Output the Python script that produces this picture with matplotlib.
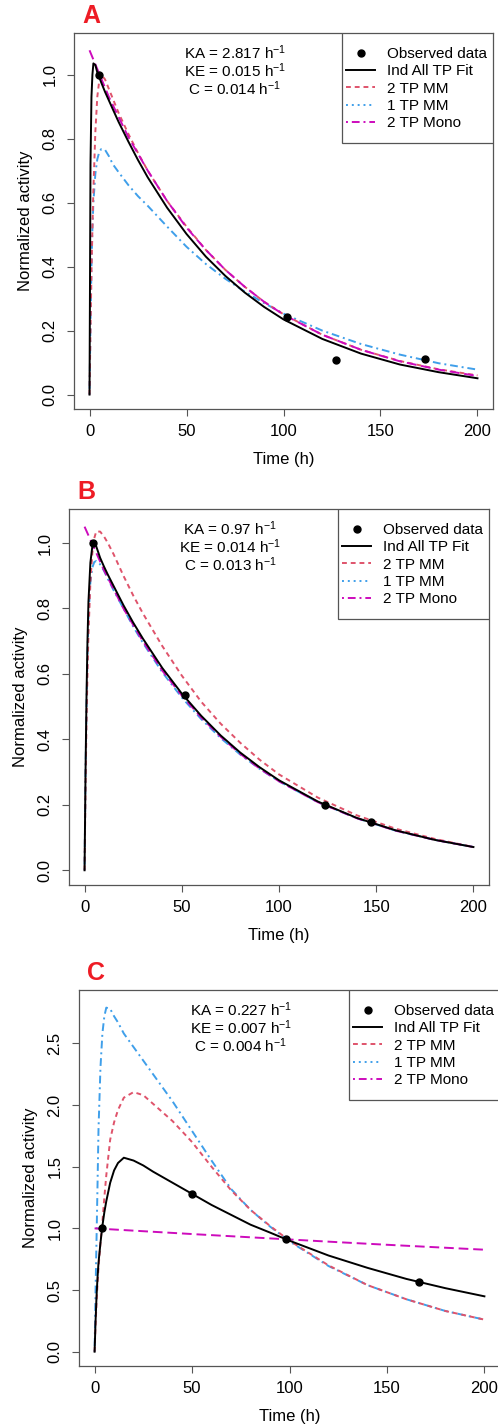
import matplotlib
matplotlib.use("Agg")
import matplotlib.pyplot as plt
from matplotlib.lines import Line2D
from matplotlib.patches import Rectangle

plt.rcParams['font.family'] = ['Liberation Sans', 'DejaVu Sans']
plt.rcParams['mathtext.fontset'] = 'custom'
plt.rcParams['mathtext.rm'] = 'Liberation Sans'
plt.rcParams['mathtext.it'] = 'Liberation Sans:italic'

# common time grid of the fitted curves (h)
t_fit = [0, 0.5, 1, 1.5, 2, 3, 4, 5, 6, 8, 10, 12, 15, 20, 25, 30, 40, 50,
         60, 70, 80, 90, 100, 120, 140, 160, 180, 200]
t_mono_ab = [0, 10, 20, 30, 40, 50, 60, 70, 80, 90, 100, 120, 140, 160, 180, 200]
t_mono_c = [0, 25, 50, 75, 100, 125, 150, 175, 200]

# panel A
a_obs_t = [5, 101.7, 127.3, 172.7]
a_obs_y = [1.0, 0.244, 0.107, 0.112]
a_ind = [0, 0.72, 0.93, 1.0, 1.035, 1.03, 1.007, 0.992, 0.976, 0.946, 0.919, 0.892,
         0.852, 0.791, 0.733, 0.679, 0.584, 0.502, 0.431, 0.371, 0.319, 0.274,
         0.235, 0.174, 0.128, 0.094, 0.070, 0.051]
a_2mm = [0, 0.2, 0.38, 0.52, 0.64, 0.82, 0.93, 0.98, 1.0, 0.985, 0.955, 0.925,
         0.88, 0.815, 0.755, 0.70, 0.605, 0.525, 0.452, 0.39, 0.337, 0.29,
         0.251, 0.187, 0.14, 0.105, 0.079, 0.06]
a_1mm = [0, 0.22, 0.4, 0.52, 0.6, 0.69, 0.735, 0.758, 0.767, 0.765, 0.745, 0.72,
         0.695, 0.655, 0.62, 0.59, 0.525, 0.462, 0.408, 0.362, 0.322, 0.286,
         0.253, 0.2, 0.158, 0.125, 0.098, 0.078]
a_mono = [1.076, 0.93, 0.805, 0.70, 0.605, 0.522, 0.452, 0.39, 0.337, 0.29, 0.25,
          0.187, 0.14, 0.104, 0.078, 0.058]

# panel B
b_obs_t = [4.1, 51.6, 123.4, 147.4]
b_obs_y = [1.0, 0.536, 0.198, 0.149]
b_ind = [0, 0.3, 0.53, 0.7, 0.82, 0.94, 0.99, 1.0, 0.99, 0.955, 0.928, 0.903,
         0.868, 0.81, 0.757, 0.708, 0.618, 0.54, 0.472, 0.412, 0.36, 0.315,
         0.275, 0.21, 0.16, 0.122, 0.093, 0.071]
b_2mm = [0, 0.25, 0.45, 0.6, 0.72, 0.88, 0.97, 1.015, 1.035, 1.035, 1.02, 1.0,
         0.965, 0.9, 0.84, 0.785, 0.685, 0.595, 0.515, 0.448, 0.39, 0.338,
         0.293, 0.222, 0.168, 0.127, 0.096, 0.071]
b_1mm = [0, 0.3, 0.5, 0.66, 0.77, 0.88, 0.925, 0.942, 0.945, 0.935, 0.915, 0.89,
         0.855, 0.8, 0.745, 0.695, 0.605, 0.528, 0.462, 0.404, 0.354, 0.31,
         0.272, 0.208, 0.159, 0.121, 0.093, 0.071]
b_mono = [1.05, 0.917, 0.80, 0.70, 0.61, 0.534, 0.467, 0.408, 0.356, 0.311, 0.272,
          0.208, 0.159, 0.121, 0.093, 0.071]

# panel C
c_obs_t = [3.8, 50, 98, 166.2]
c_obs_y = [1.0, 1.276, 0.914, 0.562]
c_ind = [0, 0.25, 0.45, 0.6, 0.72, 0.88, 1.02, 1.13, 1.22, 1.37, 1.47, 1.53,
         1.573, 1.55, 1.51, 1.46, 1.37, 1.28, 1.19, 1.11, 1.03, 0.966, 0.90,
         0.78, 0.68, 0.59, 0.515, 0.449]
c_2mm = [0, 0.22, 0.4, 0.55, 0.68, 0.88, 1.05, 1.25, 1.43, 1.72, 1.86, 1.96,
         2.06, 2.105, 2.08, 2.01, 1.87, 1.70, 1.50, 1.31, 1.15, 1.02, 0.90,
         0.70, 0.54, 0.425, 0.33, 0.26]
c_1mm = [0, 0.5, 0.92, 1.35, 1.8, 2.3, 2.58, 2.72, 2.79, 2.78, 2.72, 2.67,
         2.58, 2.47, 2.36, 2.25, 2.03, 1.79, 1.55, 1.32, 1.15, 1.015, 0.895,
         0.695, 0.54, 0.425, 0.33, 0.26]
c_mono = [1.0, 0.977, 0.954, 0.932, 0.91, 0.888, 0.867, 0.847, 0.827]

param_text = {
    'A': ['2.817', '0.015', '0.014'],
    'B': ['0.97', '0.014', '0.013'],
    'C': ['0.227', '0.007', '0.004'],
}

red = '#DF536B'
blue = '#3F9FEA'
magenta = '#CD0BBC'
frame = '#555555'

panels = [
    ('A', [74, 33, 419, 376], (-0.045, 1.13), [0, 0.2, 0.4, 0.6, 0.8, 1.0],
     a_obs_t, a_obs_y, a_ind, a_2mm, a_1mm, t_mono_ab, a_mono),
    ('B', [69, 509, 420, 376], (-0.045, 1.104), [0, 0.2, 0.4, 0.6, 0.8, 1.0],
     b_obs_t, b_obs_y, b_ind, b_2mm, b_1mm, t_mono_ab, b_mono),
    ('C', [79, 990, 421, 376], (-0.116, 2.933), [0, 0.5, 1.0, 1.5, 2.0, 2.5],
     c_obs_t, c_obs_y, c_ind, c_2mm, c_1mm, t_mono_c, c_mono),
]

W, H = 498, 1428
fig = plt.figure(figsize=(W / 100, H / 100), dpi=100)

for name, box, ylim, yticks, ot, oy, ind, mm2, mm1, tm, mono in panels:
    l, t, w, h = box
    ax = fig.add_axes([l / W, 1 - (t + h) / H, w / W, h / H])

    ax.plot(t_fit, mm1, color=blue, lw=1.4, ls=(0, (1, 2, 4, 2)))
    ax.plot(t_fit, mm2, color=red, lw=1.4, ls=(0, (2.5, 2)))
    ax.plot(tm, mono, color=magenta, lw=1.4, ls=(0, (5, 2.5)))
    ax.plot(t_fit, ind, color='black', lw=1.4)
    ax.plot(ot, oy, 'o', color='black', ms=5, zorder=5)

    ax.set_xlim(-8, 208)
    ax.set_ylim(*ylim)
    ax.set_xticks([0, 50, 100, 150, 200])
    ax.set_yticks(yticks)
    ax.set_yticklabels([f'{v:.1f}' for v in yticks], rotation=90, va='center')
    ax.tick_params(direction='out', length=5, width=0.8, color=frame,
                   labelsize=12)
    ax.tick_params(axis='x', pad=6)
    ax.tick_params(axis='y', pad=7)
    for s in ax.spines.values():
        s.set_color(frame)
        s.set_linewidth(0.9)

    ax.set_xlabel('Time (h)', fontsize=12, labelpad=9)
    ax.set_ylabel('Normalized activity', fontsize=12, labelpad=7)

    ka, ke, c = param_text[name]
    lines = [f'KA = {ka} h$^{{-1}}$', f'KE = {ke} h$^{{-1}}$', f'C = {c} h$^{{-1}}$']
    for i, s in enumerate(lines):
        ax.text((75 + 8) / 216, 0.948 - i * 0.048, s, transform=ax.transAxes,
                ha='center', va='center', fontsize=11)

    # legend box: 151 x 110 px tucked into the top-right corner
    lx0 = 1 - 151 / w
    ax.add_patch(Rectangle((lx0, 1 - 110 / h), 151 / w, 110 / h,
                           transform=ax.transAxes, facecolor='white',
                           edgecolor=frame, lw=0.9, zorder=6))
    handles = [
        Line2D([], [], ls='none', marker='o', color='black', ms=5),
        Line2D([], [], color='black', lw=1.4),
        Line2D([], [], color=red, lw=1.4, ls=(0, (2.5, 2))),
        Line2D([], [], color=blue, lw=1.4, ls=(0, (1, 2))),
        Line2D([], [], color=magenta, lw=1.4, ls=(0, (1, 2, 4, 2))),
    ]
    labels = ['Observed data', 'Ind All TP Fit', '2 TP MM', '1 TP MM', '2 TP Mono']
    leg = ax.legend(handles, labels, loc='upper left',
                    bbox_to_anchor=(lx0 + 4 / w, 1 - 14 / h),
                    borderaxespad=0, fontsize=11, frameon=False,
                    labelspacing=0.22, handlelength=1.9, handletextpad=0.8,
                    borderpad=0)
    leg.set_zorder(7)

    ax.text(0.02, 1.014, name, transform=ax.transAxes, color='#EE1C25',
            fontsize=18, fontweight='bold', va='bottom', ha='left')

fig.savefig('out.png', dpi=100)
